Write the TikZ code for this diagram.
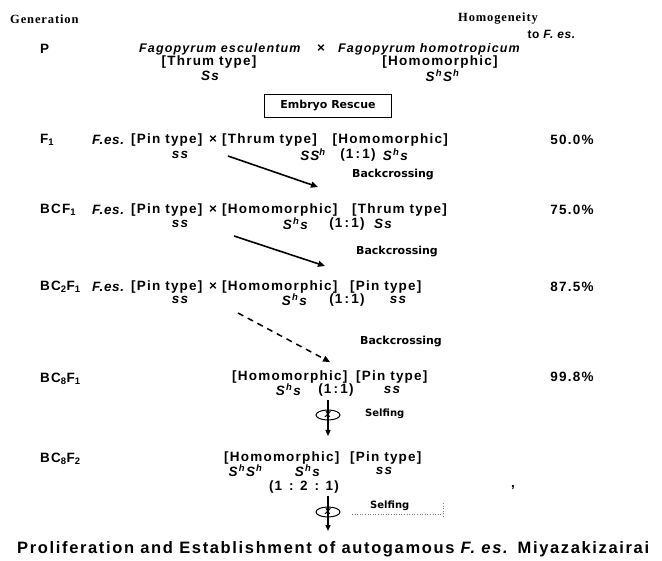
\documentclass[tikz,border=0pt]{standalone}
\usepackage{fontspec}
\setmainfont{Liberation Sans}
\newfontfamily\arf[LetterSpace=9]{Liberation Sans}
\newfontfamily\harf[LetterSpace=5]{Liberation Sans}
\newfontfamily\tarf[LetterSpace=10]{Liberation Sans}
\newfontfamily\sef[LetterSpace=7]{Liberation Serif}
\newfontfamily\dvf{DejaVu Sans}
\usetikzlibrary{arrows.meta,shapes.geometric}
\newcommand\Shh{\textit{S}\textsuperscript{\textit{h}}}
\begin{document}
\begin{tikzpicture}[x=1pt,y=-1pt,
  tx/.style={inner sep=0pt, font=\arf\bfseries\fontsize{13.5}{15}\selectfont},
  fes/.style={inner sep=0pt, font=\harf\bfseries\itshape\fontsize{13.5}{15}\selectfont},
  sp/.style={inner sep=0pt, font=\arf\bfseries\itshape\fontsize{12.5}{15}\selectfont},
  htx/.style={inner sep=0pt, font=\harf\bfseries\fontsize{12}{14}\selectfont},
  hd/.style={inner sep=0pt, font=\sef\bfseries\fontsize{12.5}{14}\selectfont},
  lab/.style={inner sep=0pt, font=\dvf\bfseries\fontsize{11}{12}\selectfont},
  slab/.style={inner sep=0pt, font=\dvf\bfseries\fontsize{10}{12}\selectfont},
  ttl/.style={inner sep=0pt, font=\tarf\bfseries\fontsize{16.5}{18}\selectfont},
  bcarrow/.style={line width=1.6pt, -{Triangle[length=7pt,width=6pt]}},
  sfarrow/.style={line width=1.2pt, -{Triangle[length=6pt,width=5pt]}},
  selfring/.style={draw, line width=1pt, ellipse, minimum width=24pt, minimum height=10pt, inner sep=0pt},
  scan/.style={gray, line width=0.6pt, dotted}
]
\useasboundingbox (0,0) rectangle (662,561);
\fill[white] (0,0) rectangle (662,561);

% header
\node[hd, anchor=west] (gen) at (10,19) {Generation};
\node[hd, anchor=east] (hom) at (538,19) {Homogeneity};
\node[htx, anchor=east] (tofes) at (576,34) {to \textit{F. es.}};

% P
\node[tx, anchor=west] (gP) at (40,49) {P};
\node[sp, anchor=west] (fe) at (139,49) {Fagopyrum esculentum};
\node[tx] (x0) at (321,49) {×};
\node[sp, anchor=west] (fh) at (338,49) {Fagopyrum homotropicum};
\node[tx] (thr0) at (209,62) {[Thrum type]};
\node[tx] (hm0) at (440,62) {[Homomorphic]};
\node[tx] (ss0) at (210,76) {\itshape Ss};
\node[tx] (shsh0) at (443,76) {\Shh\Shh};
\node[lab, draw, line width=0.7pt, minimum width=127pt, minimum height=23pt] (er) at (328,106) {Embryo Rescue};

% F1
\node[tx, anchor=west] (g1) at (40,140) {F\textsubscript{1}};
\node[fes, anchor=west] (fa1) at (92,140) {F.es.};
\node[tx, anchor=west] (pa1) at (131,140) {[Pin type]};
\node[tx] (x1) at (213,140) {×};
\node[tx, anchor=west] (pb1) at (222,140) {[Thrum type]};
\node[tx, anchor=east] (pc1) at (448,140) {[Homomorphic]};
\node[tx] (h1) at (572,140) {50.0\%};
\node[tx] (ss1) at (180,155) {\itshape ss};
\node[tx] (ga1) at (313,155) {\itshape SS\textsuperscript{h}};
\node[tx] (r1) at (358,155) {(1\,:\,1)};
\node[tx] (gb1) at (396,155) {\Shh\textit{s}};
\coordinate (a1s) at (228,156);
\coordinate (a1e) at (318,187);
\draw[bcarrow] (a1s) -- (a1e);
\node[lab] (bc1) at (393,175) {Backcrossing};

% BCF1
\node[tx, anchor=west] (g2) at (40,210) {BCF\textsubscript{1}};
\node[fes, anchor=west] (fa2) at (92,210) {F.es.};
\node[tx, anchor=west] (pa2) at (131,210) {[Pin type]};
\node[tx] (x2) at (213,210) {×};
\node[tx, anchor=west] (pb2) at (222,210) {[Homomorphic]};
\node[tx, anchor=east] (pc2) at (447,210) {[Thrum type]};
\node[tx] (h2) at (572,210) {75.0\%};
\node[tx] (ss2) at (180,224) {\itshape ss};
\node[tx] (ga2) at (296,224) {\Shh\textit{s}};
\node[tx] (r2) at (347,224) {(1\,:\,1)};
\node[tx] (gb2) at (383,224) {\itshape Ss};
\coordinate (a2s) at (234,236);
\coordinate (a2e) at (325,266);
\draw[bcarrow] (a2s) -- (a2e);
\node[lab] (bc2) at (397,252) {Backcrossing};

% BC2F1
\node[tx, anchor=west] (g3) at (40,287) {BC\textsubscript{2}F\textsubscript{1}};
\node[fes, anchor=west] (fa3) at (92,287) {F.es.};
\node[tx, anchor=west] (pa3) at (131,287) {[Pin type]};
\node[tx] (x3) at (213,287) {×};
\node[tx, anchor=west] (pb3) at (222,287) {[Homomorphic]};
\node[tx, anchor=west] (pc3) at (350,287) {[Pin type]};
\node[tx] (h3) at (572,287) {87.5\%};
\node[tx] (ss3) at (180,300) {\itshape ss};
\node[tx] (ga3) at (295,300) {\Shh\textit{s}};
\node[tx] (r3) at (347,300) {(1\,:\,1)};
\node[tx] (gb3) at (398,300) {\itshape ss};
\coordinate (a3s) at (238,313);
\coordinate (a3e) at (330,362);
\draw[bcarrow, line width=1.5pt, dash pattern=on 6pt off 5pt] (a3s) -- (a3e);
\node[lab] (bc3) at (401,342) {Backcrossing};

% BC8F1
\node[tx, anchor=west] (g4) at (40,379) {BC\textsubscript{8}F\textsubscript{1}};
\node[tx, anchor=west] (pb4) at (232,377) {[Homomorphic]};
\node[tx, anchor=west] (pc4) at (356,377) {[Pin type]};
\node[tx] (h4) at (572,377) {99.8\%};
\node[tx] (ga4) at (289,390) {\Shh\textit{s}};
\node[tx] (r4) at (336,390) {(1\,:\,1)};
\node[tx] (gb4) at (392,390) {\itshape ss};

% selfing 1
\coordinate (s1s) at (328,400);
\coordinate (s1e) at (328,436);
\draw[sfarrow] (s1s) -- (s1e);
\node[selfring] (e1) at (328,415) {};
\node[inner sep=0pt, font=\bfseries\itshape\fontsize{11}{11}\selectfont] (ex1) at (e1.center) {x};
\node[slab, anchor=west] (sf1) at (365,414) {Selfing};

% BC8F2
\node[tx, anchor=west] (g5) at (40,459) {BC\textsubscript{8}F\textsubscript{2}};
\node[tx, anchor=west] (pb5) at (224,458) {[Homomorphic]};
\node[tx, anchor=west] (pc5) at (350,458) {[Pin type]};
\node[tx] (ga5) at (246,471) {\Shh\Shh};
\node[tx] (gm5) at (308,471) {\Shh\textit{s}};
\node[tx] (gb5) at (384,471) {\itshape ss};
\node[tx] (r5) at (304,487) {(1\enspace:\enspace2\enspace:\enspace1)};
\node[tx] (cm5) at (513,488) {,};

% selfing 2
\coordinate (s2s) at (328,496);
\coordinate (s2e) at (328,531);
\draw[sfarrow] (s2s) -- (s2e);
\node[selfring] (e2) at (328,512) {};
\node[inner sep=0pt, font=\bfseries\itshape\fontsize{11}{11}\selectfont] (ex2) at (e2.center) {x};
\node[slab, anchor=west] (sf2) at (370,506) {Selfing};
\coordinate (d2a) at (352,514);
\coordinate (d2b) at (442,514);
\coordinate (d2c) at (443,503);
\coordinate (d2d) at (443,517);
\draw[scan] (d2a) -- (d2b);
\draw[scan] (d2c) -- (d2d);

% title
\node[ttl, anchor=west] (title) at (17,549) {Proliferation and Establishment of autogamous \textit{F. es.} Miyazakizairai};
\end{tikzpicture}
\end{document}
